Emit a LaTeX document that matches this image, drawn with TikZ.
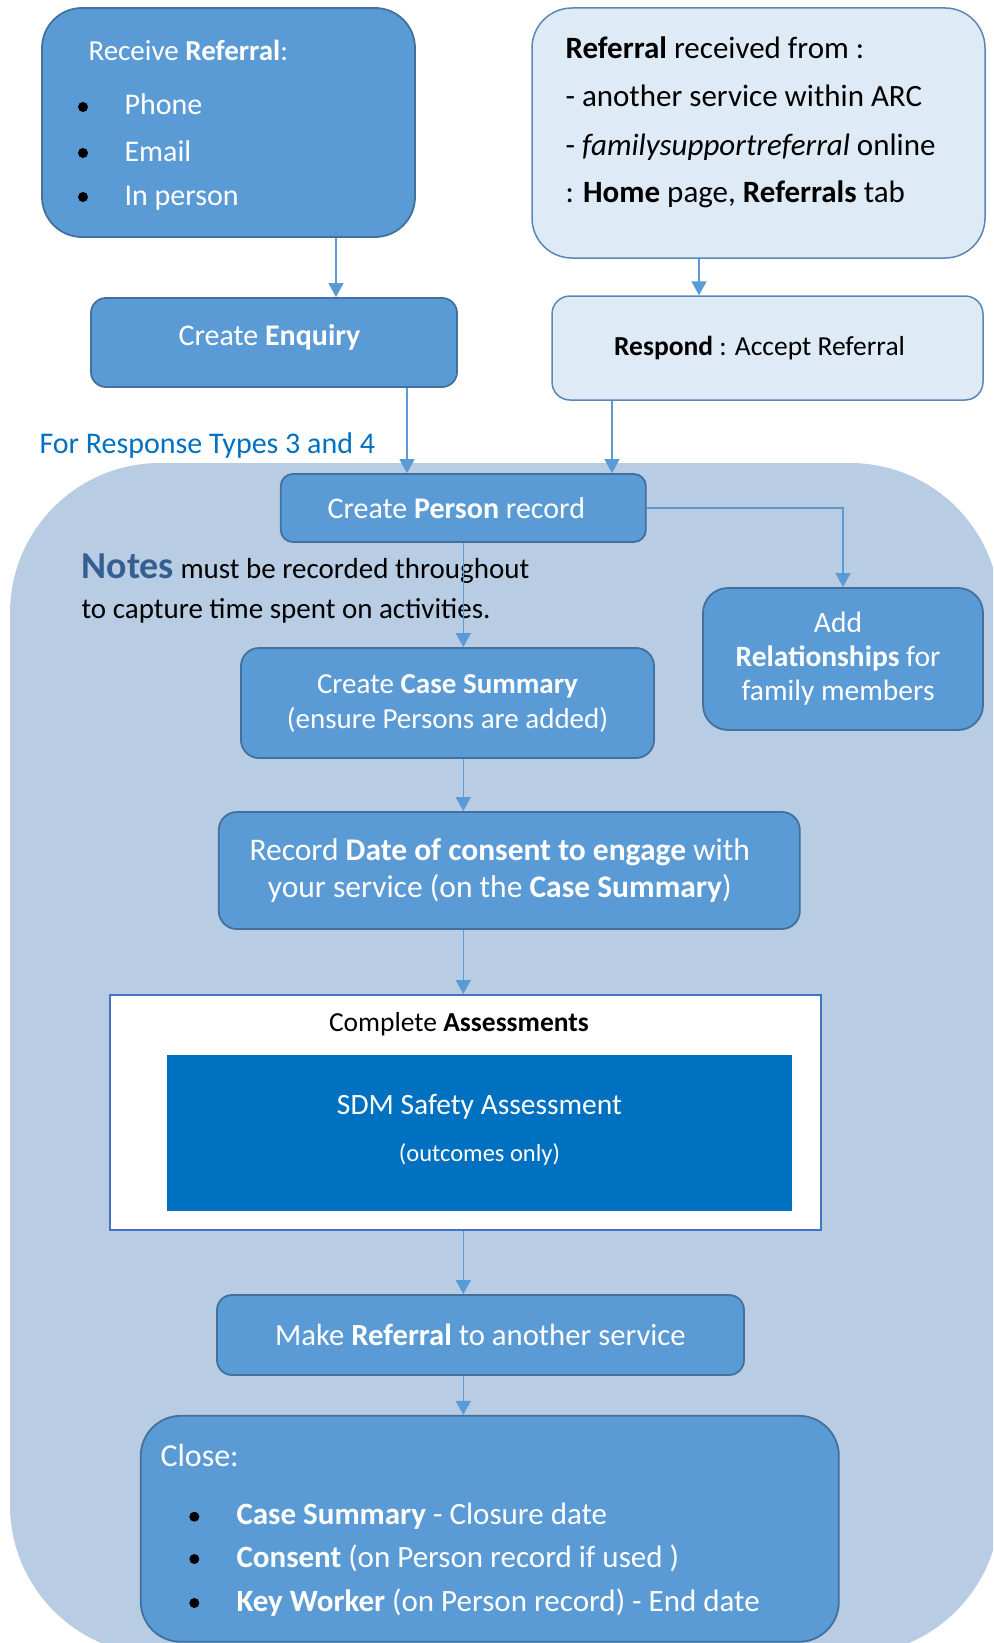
\documentclass[tikz,border=0pt]{standalone}
\usepackage{fontspec}
\usepackage{graphicx}
\setmainfont{Carlito}
\usetikzlibrary{arrows.meta}

\definecolor{boxfill}{HTML}{5B9BD5}
\definecolor{boxline}{HTML}{41719C}
\definecolor{lightfill}{HTML}{DEEBF7}
\definecolor{lightline}{HTML}{5A87B6}
\definecolor{regionfill}{HTML}{B8CCE4}
\definecolor{darkblue}{HTML}{0070C0}
\definecolor{notesblue}{HTML}{365F91}
\definecolor{assessline}{HTML}{4472C4}
\definecolor{arrowblue}{HTML}{5B9BD5}

\newcommand{\fsz}[1]{\fontsize{#1}{#1}\selectfont}
% nudge a line sideways inside a centred node
\newcommand{\nudge}[2]{\hspace*{#1}#2}

\begin{document}
\begin{tikzpicture}[x=1pt,y=-1pt,
    stepbox/.style={draw=boxline,fill=boxfill,line width=1.8pt,text=white,align=center,inner sep=0pt},
    lightbox/.style={draw=lightline,fill=lightfill,line width=1.5pt,align=center,inner sep=0pt},
    flow/.style={draw=arrowblue,line width=1.6pt,-{Triangle[width=15pt,length=14pt]}},
    dot/.style={circle,fill=black,inner sep=0pt,minimum size=10pt}]

  \useasboundingbox (0,0) rectangle (993,1643);
  \begin{scope}
    \clip (0,0) rectangle (993,1643);
    \fill[regionfill,rounded corners=150pt] (10,463) rectangle (1000,1655);
  \end{scope}

  % intake
  \node[stepbox,minimum width=373pt,minimum height=229pt,rounded corners=40pt](recv) at (228.5,122.5) {};
  \node[anchor=base west,text=white,font=\fsz{29}](recvhead) at (85,61) {Receive \textbf{Referral}:};
  \foreach \y/\txt in {115/Phone,161/Email,205/In person}{
    \node[dot](rb\y) at (83,\y-8) {};
    \node[anchor=base west,text=white,font=\fsz{30}](ri\y) at (121,\y) {\txt};
  }

  \node[lightbox,minimum width=453pt,minimum height=250pt,rounded corners=40pt](refin) at (758.5,133) {};
  \node[anchor=base west,font=\fsz{31}](rf1) at (562,59) {\textbf{Referral} received from :};
  \node[anchor=base west,font=\fsz{31}](rf2) at (562,107) {- another service within ARC};
  \node[anchor=base west,font=\fsz{31}](rf3) at (562,155) {- \textit{familysupportreferral} online};
  \node[anchor=base west,font=\fsz{31}](rf4) at (562,202) {: \textbf{Home} page, \textbf{Referrals} tab};

  \node[stepbox,minimum width=366pt,minimum height=89pt,rounded corners=15pt,font=\fsz{30}](enq) at (274,342.5)
    {\nudge{-9pt}{\raisebox{5pt}[\height][\depth]{Create \textbf{Enquiry}}}};
  \node[lightbox,minimum width=431pt,minimum height=104pt,rounded corners=18pt,font=\fsz{27.5}](resp) at (767.5,348)
    {\nudge{-16pt}{\textbf{Respond} : Accept Referral}};

  \node[anchor=base west,text=darkblue,font=\fsz{30}](rtypes) at (36,453) {For Response Types 3 and 4};

  % case work
  \node[stepbox,minimum width=365pt,minimum height=68pt,rounded corners=12pt,font=\fsz{30}](person) at (463.3,508)
    {\nudge{-14pt}{Create \textbf{Person} record}};
  \node[stepbox,minimum width=280pt,minimum height=142pt,rounded corners=25pt,font={\fontsize{29.5}{34}\selectfont}](rel) at (843,659)
    {\nudge{-10pt}{Add}\\\nudge{-10pt}{\textbf{Relationships} for}\\\nudge{-10pt}{family members}};

  \node[anchor=base west,font=\fsz{29}](notes1) at (78,578) {{\fsz{38}\textbf{\color{notesblue}Notes}} must be recorded throughout};
  \node[anchor=base west,font=\fsz{29}](notes2) at (78,618) {to capture time spent on activities.};

  \node[stepbox,minimum width=413pt,minimum height=110pt,rounded corners=18pt,font={\fontsize{29}{35}\selectfont}](case) at (447.5,703)
    {\raisebox{-3pt}{Create \textbf{Case Summary}}\\\raisebox{-3pt}{(ensure Persons are added)}};
  \node[stepbox,minimum width=581pt,minimum height=117pt,rounded corners=18pt,font={\fontsize{31.5}{37}\selectfont}](rec) at (509.3,870.5)
    {\nudge{-19pt}{Record \textbf{Date of consent to engage} with}\\\nudge{-19pt}{your service (on the \textbf{Case Summary})}};

  \node[draw=assessline,fill=white,line width=2pt,minimum width=711pt,minimum height=235pt,inner sep=0pt](assess) at (465.3,1112.5) {};
  \node[anchor=base,font=\fsz{27.5}](assesshead) at (459,1031) {Complete \textbf{Assessments}};
  \node[fill=darkblue,text=white,minimum width=625pt,minimum height=156pt,inner sep=0pt,align=center,font=\fsz{29.5}](sdm) at (479.5,1133)
    {\raisebox{6pt}[\height][\depth]{SDM Safety Assessment}\\[12pt]{\fsz{24.5}(outcomes only)}};

  \node[stepbox,minimum width=527pt,minimum height=80pt,rounded corners=15pt,font=\fsz{30.7}](make) at (480.5,1335) {Make \textbf{Referral} to another service};

  \node[stepbox,minimum width=698pt,minimum height=226pt,rounded corners=40pt](close) at (489.8,1528.8) {};
  \node[anchor=base west,text=white,font=\fsz{32}](closehead) at (157,1466) {Close:};
  \foreach \y/\txt in {1524.7/{\textbf{Case Summary} - Closure date},
                       1567/{\textbf{Consent} (on Person record if used )},
                       1611/{\textbf{Key Worker} (on Person record) - End date}}{
    \node[dot](cb\y) at (194.3,\y-8) {};
    \node[anchor=base west,text=white,font=\fsz{31}](ci\y) at (233,\y) {\txt};
  }

  % connectors
  \draw[flow] (recv.south -| 336,0) -- (enq.north -| 336,0);
  \draw[flow] (refin.south -| 699,0) -- (resp.north -| 699,0);
  \draw[flow] (enq.south -| 407,0) -- (person.north -| 407,0);
  \draw[flow] (resp.south -| 612,0) -- (person.north -| 612,0);
  \draw[flow] (person.east) -| (rel.north);
  \foreach \a/\b in {person/case,case/rec,rec/assess,assess/make,make/close}{
    \draw[flow] (\a.south -| person.south) -- (\b.north -| person.south);
  }
\end{tikzpicture}
\end{document}
